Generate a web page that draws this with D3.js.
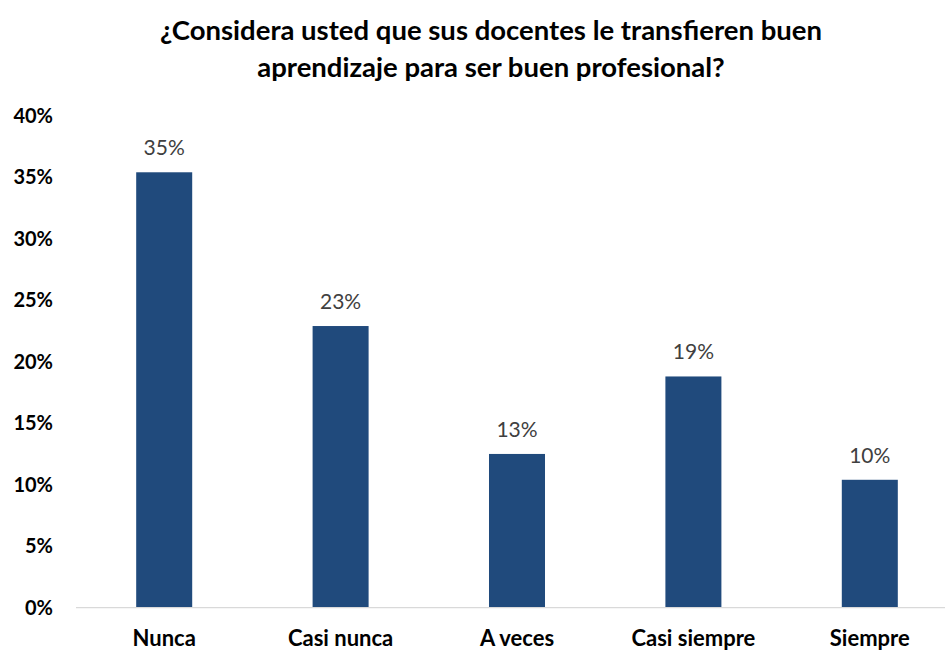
<!DOCTYPE html>
<html>
<head>
<meta charset="utf-8">
<script src="https://cdn.jsdelivr.net/npm/d3@7.9.0/dist/d3.min.js"></script>
<style>
  body { margin: 0; background: #fff; }
  svg { display: block; font-family: Lato, "Open Sans", sans-serif; }
</style>
</head>
<body>
<svg width="945" height="650"></svg>
<script>
// chart data
const categories = ['Nunca', 'Casi nunca', 'A veces', 'Casi siempre', 'Siempre'];
const values = [35.4, 22.9, 12.5, 18.8, 10.4];
const yTicks = [0, 5, 10, 15, 20, 25, 30, 35, 40];
const titleLines = ['¿Considera usted que sus docentes le transfieren buen', 'aprendizaje para ser buen profesional?'];

const svg = d3.select('svg');

// plot runs past the right edge, like the original export
let x = d3.scaleBand()
    .domain(categories)
    .range([76, 958])
    .paddingInner(0.6825)
    .paddingOuter(0.6825 / 2);

let y = d3.scaleLinear().domain([0, 40]).range([607.7, 115.7]);

// title
svg.append('g')
    .selectAll('text')
    .data(titleLines)
    .join('text')
    .attr('x', 491)
    .attr('y', (d, i) => 40 + i * 37)
    .attr('text-anchor', 'middle')
    .attr('font-size', 27.5)
    .attr('font-weight', 700)
    .attr('fill', '#000')
    .text(d => d);

// y labels (no gridlines)
svg.append('g')
    .selectAll('text')
    .data(yTicks)
    .join('text')
    .attr('x', 53)
    .attr('y', d => y(d))
    .attr('dy', '0.35em')
    .attr('text-anchor', 'end')
    .attr('font-size', 20)
    .attr('font-weight', 700)
    .attr('fill', '#000')
    .text(d => d + '%');

// bars
svg.append('g')
    .selectAll('rect')
    .data(values)
    .join('rect')
    .attr('x', (d, i) => x(categories[i]))
    .attr('y', d => y(d))
    .attr('width', x.bandwidth())
    .attr('height', d => y(0) - y(d))
    .attr('fill', '#204a7c');

// baseline
svg.append('line')
    .attr('x1', 76).attr('x2', 945)
    .attr('y1', y(0)).attr('y2', y(0))
    .attr('stroke', '#d9d9d9')
    .attr('stroke-width', 1.3);

// value labels
svg.append('g')
    .selectAll('text')
    .data(values)
    .join('text')
    .attr('x', (d, i) => x(categories[i]) + x.bandwidth() / 2)
    .attr('y', d => y(d) - 17)
    .attr('text-anchor', 'middle')
    .attr('font-size', 21)
    .attr('fill', '#404040')
    .text(d => Math.round(d) + '%');

// category labels
svg.append('g')
    .selectAll('text')
    .data(categories)
    .join('text')
    .attr('x', d => x(d) + x.bandwidth() / 2)
    .attr('y', 646)
    .attr('text-anchor', 'middle')
    .attr('font-size', 22)
    .attr('font-weight', 700)
    .attr('fill', '#000')
    .text(d => d);
</script>
</body>
</html>
